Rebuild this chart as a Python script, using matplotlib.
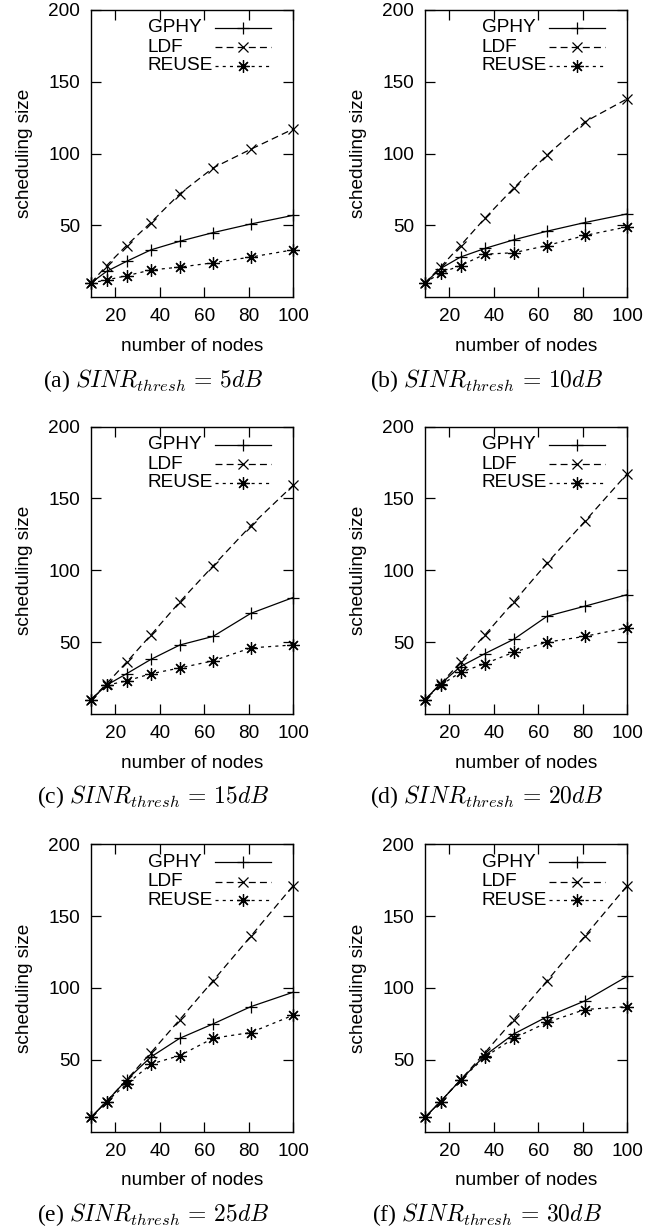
import matplotlib
matplotlib.use("Agg")
import matplotlib.pyplot as plt

plt.rcParams["font.family"] = ["Liberation Sans", "DejaVu Sans"]
plt.rcParams["mathtext.fontset"] = "cm"
plt.rcParams["lines.scale_dashes"] = False

# Number of nodes in the network (x axis)
nodes = [9, 16, 25, 36, 49, 64, 81, 100]

# Scheduling size per SINR threshold
gphy_5 = [10, 18, 25, 33, 39, 45, 51, 57]
ldf_5 = [10, 22, 36, 52, 72, 90, 103, 117]
reuse_5 = [10, 12, 15, 19, 21, 24, 28, 33]

gphy_10 = [10, 20, 28, 34, 40, 46, 52, 58]
ldf_10 = [10, 21, 36, 55, 76, 99, 122, 138]
reuse_10 = [10, 17, 22, 30, 31, 36, 43, 49]

gphy_15 = [10, 20, 28, 38, 48, 54, 70, 81]
ldf_15 = [10, 21, 36, 55, 78, 103, 131, 159]
reuse_15 = [10, 20, 23, 28, 32, 37, 46, 48]

gphy_20 = [10, 21, 33, 42, 52, 68, 75, 83]
ldf_20 = [10, 21, 36, 55, 78, 105, 134, 167]
reuse_20 = [10, 20, 29, 35, 43, 50, 54, 60]

gphy_25 = [10, 21, 36, 52, 65, 75, 87, 97]
ldf_25 = [10, 21, 36, 55, 78, 105, 136, 171]
reuse_25 = [10, 21, 33, 47, 53, 65, 69, 81]

gphy_30 = [10, 21, 36, 53, 68, 80, 91, 108]
ldf_30 = [10, 21, 36, 55, 78, 105, 136, 171]
reuse_30 = [10, 21, 36, 52, 65, 76, 85, 87]

thresholds = [5, 10, 15, 20, 25, 30]
panel_letters = ["a", "b", "c", "d", "e", "f"]
series_names = ["GPHY", "LDF", "REUSE"]
x_ticks = [20, 40, 60, 80, 100]
y_ticks = [50, 100, 150, 200]

panels = [
    (gphy_5, ldf_5, reuse_5),
    (gphy_10, ldf_10, reuse_10),
    (gphy_15, ldf_15, reuse_15),
    (gphy_20, ldf_20, reuse_20),
    (gphy_25, ldf_25, reuse_25),
    (gphy_30, ldf_30, reuse_30),
]

W, H = 645, 1230
fig = plt.figure(figsize=(W / 100, H / 100), dpi=100)

col_left = [91, 425]
row_bottom = [297.3, 714.0, 1131.7]
ax_w, ax_h = 202, 287.5

FS = 13.7
asterisk = (8, 2, 0)
styles = [
    dict(color="black", lw=0.9, ls="-", marker="+", ms=9, mew=0.9),
    dict(color="black", lw=0.9, dashes=(5, 3), marker="x", ms=7.5, mew=0.9),
    dict(color="black", lw=0.9, dashes=(2.2, 3), marker=asterisk, ms=9, mew=0.9),
]

# key layout (axes fractions): text at left, line sample with marker at right
key_text_x = 0.282
key_line = (0.614, 0.891)
key_rows = [0.937, 0.869, 0.805]

for i, (series, thr, letter) in enumerate(zip(panels, thresholds, panel_letters)):
    r, c = divmod(i, 2)
    left = col_left[c]
    bottom = row_bottom[r]
    ax = fig.add_axes([left / W, (H - bottom) / H, ax_w / W, ax_h / H])
    for vals, name, st in zip(series, series_names, styles):
        ax.plot(nodes, vals, clip_on=False, **st)
    # key entries
    for name, st, ky in zip(series_names, styles, key_rows):
        ax.text(key_text_x, ky, name, transform=ax.transAxes, fontsize=FS,
                ha="left", va="center")
        line_st = {k: v for k, v in st.items() if k not in ("marker", "ms", "mew")}
        ax.plot(list(key_line), [ky, ky], transform=ax.transAxes, **line_st)
        ax.plot([sum(key_line) / 2], [ky], transform=ax.transAxes, ls="none",
                color="black", marker=st["marker"], ms=st["ms"], mew=st["mew"])
    ax.set_xlim(9, 100)
    ax.set_ylim(0, 200)
    ax.set_xticks(x_ticks)
    ax.set_yticks(y_ticks)
    ax.tick_params(direction="in", length=7.5, width=0.9, top=True, right=True,
                   labelsize=FS)
    ax.tick_params(axis="x", pad=8)
    ax.tick_params(axis="y", pad=8)
    for sp in ax.spines.values():
        sp.set_linewidth(1.0)
    ax.set_xlabel("number of nodes", fontsize=FS, labelpad=9)
    ax.set_ylabel("scheduling size", fontsize=FS)
    ax.yaxis.set_label_coords(-0.285, 0.5)
    cx = left + 62
    fig.text(cx / W, (H - (bottom + 83)) / H,
             r"(%s) $SINR_{thresh}\,=\,%d dB$" % (letter, thr),
             fontsize=17, family="Liberation Serif", ha="center", va="center")

fig.savefig("out.png", dpi=100)
